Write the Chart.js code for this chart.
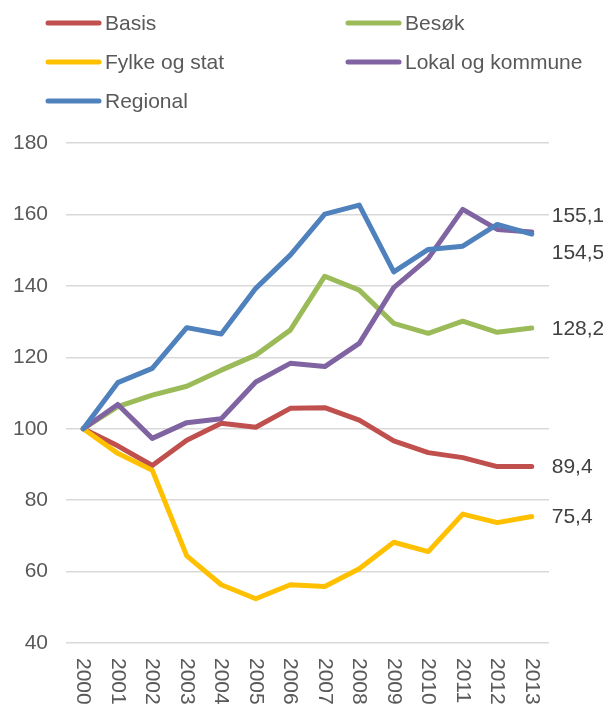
<!DOCTYPE html>
<html>
<head>
<meta charset="utf-8">
<script src="https://cdn.jsdelivr.net/npm/chart.js@4"></script>
<style>
  html, body { margin: 0; padding: 0; background: #ffffff; }
  #chart { display: block; }
</style>
</head>
<body>
<canvas id="chart" width="603" height="704"></canvas>
<script>
// Index (2000 = 100)
const years = ['2000', '2001', '2002', '2003', '2004', '2005', '2006',
  '2007', '2008', '2009', '2010', '2011', '2012', '2013'];

const basis    = [100, 95.2, 89.7, 96.8, 101.5, 100.4, 105.7, 105.9, 102.4, 96.6, 93.3, 91.9, 89.4, 89.4];
const besok    = [100, 106.2, 109.4, 111.9, 116.4, 120.6, 127.6, 142.7, 138.8, 129.5, 126.7, 130.1, 127.0, 128.2];
const fylke    = [100, 93.1, 88.4, 64.4, 56.3, 52.4, 56.3, 55.8, 60.8, 68.2, 65.6, 76.1, 73.7, 75.4];
const lokal    = [100, 106.8, 97.3, 101.7, 102.8, 113.1, 118.3, 117.4, 123.9, 139.5, 147.7, 161.4, 155.8, 155.1];
const regional = [100, 112.9, 116.9, 128.3, 126.5, 139.3, 148.6, 160.1, 162.6, 143.9, 150.2, 151.1, 157.2, 154.5];

const seriesNames = ['Basis', 'Besøk', 'Fylke og stat', 'Lokal og kommune', 'Regional'];
const seriesData = [basis, besok, fylke, lokal, regional];
const seriesColors = ['#C0504D', '#9BBB59', '#FFC000', '#8064A2', '#4F81BD'];

const yTicks = [40, 60, 80, 100, 120, 140, 160, 180];

const FONT = "'Liberation Sans', Arial, sans-serif";
const FONT_SIZE = 21;

/**
 * Legend in two columns above the plot
 */
const legendPlugin = {
  id: 'gridLegend',
  afterDraw(chart) {
    const ctx = chart.ctx;
    const cols = [46, 346];
    const rows = [23, 62, 101];
    ctx.save();
    ctx.font = `${FONT_SIZE}px ${FONT}`;
    ctx.textBaseline = 'middle';
    ctx.textAlign = 'left';
    seriesNames.forEach((name, i) => {
      const x = cols[i % 2];
      const y = rows[Math.floor(i / 2)];
      ctx.strokeStyle = seriesColors[i];
      ctx.lineWidth = 5;
      ctx.lineCap = 'round';
      ctx.beginPath();
      ctx.moveTo(x + 2, y);
      ctx.lineTo(x + 53, y);
      ctx.stroke();
      ctx.fillStyle = '#595959';
      ctx.fillText(name, x + 59, y + 1);
    });
    ctx.restore();
  },
};

/**
 * Year labels, rotated clockwise under the axis
 */
const yearLabelPlugin = {
  id: 'yearLabels',
  afterDraw(chart) {
    const ctx = chart.ctx;
    const xScale = chart.scales.x;
    ctx.save();
    ctx.font = `${FONT_SIZE}px ${FONT}`;
    ctx.fillStyle = '#595959';
    ctx.textAlign = 'left';
    ctx.textBaseline = 'middle';
    years.forEach((label, i) => {
      const x = xScale.getPixelForValue(i);
      ctx.save();
      ctx.translate(x, chart.chartArea.bottom + 15);
      ctx.rotate(Math.PI / 2);
      ctx.fillText(label, 0, 0);
      ctx.restore();
    });
    ctx.restore();
  },
};

/**
 * Last value of each series written to the right of the line
 */
const endLabelPlugin = {
  id: 'endLabels',
  afterDatasetsDraw(chart) {
    const ctx = chart.ctx;
    const shift = { 'Lokal og kommune': -17, 'Regional': 18 };
    ctx.save();
    ctx.font = `${FONT_SIZE}px ${FONT}`;
    ctx.fillStyle = '#404040';
    ctx.textAlign = 'left';
    ctx.textBaseline = 'middle';
    chart.data.datasets.forEach((ds, i) => {
      const meta = chart.getDatasetMeta(i);
      const pt = meta.data[meta.data.length - 1];
      const value = ds.data[ds.data.length - 1];
      const dy = shift[ds.label] || 0;
      ctx.fillText(value.toFixed(1).replace('.', ','), pt.x + 20, pt.y + dy + 1);
    });
    ctx.restore();
  },
};

const datasets = seriesNames.map((name, i) => ({
  label: name,
  data: seriesData[i],
  borderColor: seriesColors[i],
  backgroundColor: seriesColors[i],
  borderWidth: 5,
  borderJoinStyle: 'round',
  borderCapStyle: 'round',
  pointRadius: 0,
  tension: 0,
  fill: false,
  order: seriesNames.length - i,
}));

new Chart(document.getElementById('chart'), {
  type: 'line',
  data: { labels: years, datasets },
  options: {
    responsive: false,
    animation: false,
    layout: { padding: { top: 143, right: 54, bottom: 0, left: 0 } },
    plugins: {
      legend: { display: false },
      tooltip: { enabled: false },
    },
    scales: {
      x: {
        offset: true,
        grid: { display: false },
        border: { display: false },
        ticks: { display: false },
        afterFit: (scale) => { scale.height = 61; },
      },
      y: {
        min: yTicks[0],
        max: yTicks[yTicks.length - 1],
        afterBuildTicks: (scale) => {
          scale.ticks = yTicks.map((v) => ({ value: v }));
        },
        grid: { color: '#d9d9d9', lineWidth: 1.5, drawTicks: false },
        border: { display: false },
        ticks: {
          color: '#595959',
          font: { size: FONT_SIZE, family: FONT },
          padding: 18,
        },
        afterFit: (scale) => { scale.width = 66; },
      },
    },
  },
  plugins: [legendPlugin, yearLabelPlugin, endLabelPlugin],
});
</script>
</body>
</html>
